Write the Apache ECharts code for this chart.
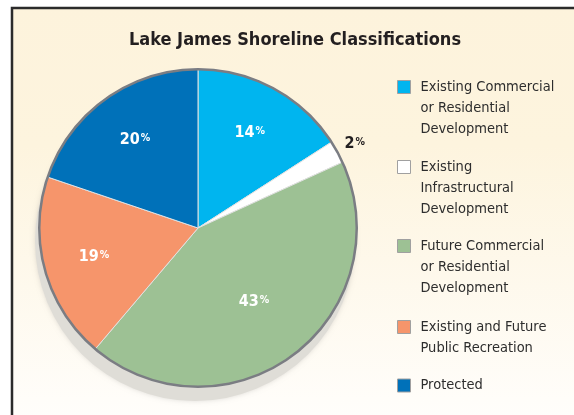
<!DOCTYPE html>
<html>
<head>
<meta charset="utf-8">
<title>Lake James Shoreline Classifications</title>
<script src="https://cdn.jsdelivr.net/npm/echarts@6/dist/echarts.min.js"></script>
<style>
  html, body { margin: 0; padding: 0; background: #fff; }
  #main { width: 574px; height: 415px; }
</style>
</head>
<body>
<div id="main"></div>
<script>
// slice data, clockwise from 12 o'clock
var categories = [
    'Existing Commercial\nor Residential\nDevelopment',
    'Existing\nInfrastructural\nDevelopment',
    'Future Commercial\nor Residential\nDevelopment',
    'Existing and Future\nPublic Recreation',
    'Protected'
];
// share of the circle as drawn
var sliceValues = [15.9, 2.3, 43, 19, 19.8];
// the printed percentages
var sliceLabels = ['14', '2', '43', '19', '20'];
var sliceColors = ['#00b5ef', '#ffffff', '#9dc194', '#f6956b', '#0071b9'];

var FONT = "'DejaVu Sans Condensed', 'Liberation Sans', sans-serif";
var CX = 198, CY = 228, R = 160;
var LH = 21;
var iconY = [87, 167, 246, 327, 385.5];

var chart = echarts.init(document.getElementById('main'), null, { renderer: 'canvas' });

function pctText(i) {
    return '{n|' + sliceLabels[i] + '}{p|%}';
}

function richFor(color) {
    return {
        n: { fontFamily: FONT, fontSize: 16, fontWeight: 'bold', color: color },
        p: { fontFamily: FONT, fontSize: 10.5, fontWeight: 'bold', color: color, verticalAlign: 'top', padding: [1, 0, 0, 1] }
    };
}

// labels are placed by overlay rings, so the radius of the label point can differ
function labelRing(r0, which) {
    return {
        type: 'pie',
        center: [CX, CY],
        radius: [r0, R],
        silent: true,
        z: 5,
        emphasis: { disabled: true },
        itemStyle: { color: 'rgba(0,0,0,0)' },
        labelLine: { show: false },
        data: categories.map(function(name, i) {
            return {
                name: name,
                value: sliceValues[i],
                label: {
                    show: which.indexOf(i) >= 0,
                    position: 'inside',
                    formatter: function() { return pctText(i); },
                    rich: richFor('#ffffff')
                }
            };
        })
    };
}

// legend text is centred on the icon, so blank lines in front put line one level with it
var legends = categories.map(function(name, i) {
    var lines = name.split('\n').length;
    var h = (2 * lines - 1) * LH;
    var pad = new Array(lines).join('\n');
    return {
        data: [name],
        orient: 'vertical',
        left: 397,
        top: iconY[i] - h / 2,
        padding: 0,
        itemWidth: 13,
        itemHeight: 13,
        icon: 'rect',
        selectedMode: false,
        formatter: function(n) { return pad + n; },
        itemStyle: { borderColor: '#a0a0a0', borderWidth: 1 },
        textStyle: {
            fontFamily: FONT,
            fontSize: 14.5,
            color: '#2d2d2d',
            lineHeight: LH,
            padding: [0, 0, 0, 5]
        }
    };
});

var option = {
    animation: false,
    graphic: [{
        type: 'rect',
        z: 0,
        shape: { x: 12, y: 8, width: 620, height: 460 },
        style: {
            fill: {
                type: 'linear', x: 0, y: 0, x2: 0, y2: 1,
                colorStops: [
                    { offset: 0, color: '#fdf3dc' },
                    { offset: 0.3, color: '#fdf4de' },
                    { offset: 0.85, color: '#fffdf9' },
                    { offset: 1, color: '#ffffff' }
                ]
            },
            stroke: '#2b2b2b',
            lineWidth: 2.5
        }
    }],
    title: {
        text: 'Lake James Shoreline Classifications',
        left: 295,
        textAlign: 'center',
        top: 31,
        padding: 0,
        textStyle: { fontFamily: FONT, fontSize: 18, fontWeight: 'bold', color: '#231f20' }
    },
    legend: legends,
    series: [
        {
            // soft drop shadow under the disc
            type: 'pie',
            center: [CX - 3, CY + 13],
            radius: R,
            silent: true,
            z: 1,
            emphasis: { disabled: true },
            label: { show: false },
            itemStyle: { color: '#dfddd7', shadowBlur: 5, shadowColor: 'rgba(0,0,0,0.12)' },
            data: [{ name: 'shadow', value: 1 }]
        },
        {
            type: 'pie',
            center: [CX, CY],
            radius: R - 1,
            z: 2,
            avoidLabelOverlap: false,
            emphasis: { disabled: true },
            itemStyle: { borderColor: '#e2e2e2', borderWidth: 1 },
            labelLine: { show: false, length: 17, length2: 0 },
            data: categories.map(function(name, i) {
                return {
                    name: name,
                    value: sliceValues[i],
                    itemStyle: { color: sliceColors[i] },
                    label: {
                        show: i === 1,
                        position: 'outside',
                        distanceToLabelLine: -8,
                        formatter: function() { return pctText(i); },
                        rich: richFor('#231f20')
                    }
                };
            })
        },
        {
            // grey rim
            type: 'pie',
            center: [CX, CY],
            radius: [R - 2.5, R],
            silent: true,
            z: 3,
            emphasis: { disabled: true },
            label: { show: false },
            itemStyle: { color: '#7b7d83' },
            data: [{ name: 'rim', value: 1 }]
        },
        labelRing(50, [0, 3, 4]),
        labelRing(20, [2])
    ]
};

chart.setOption(option);
</script>
</body>
</html>
